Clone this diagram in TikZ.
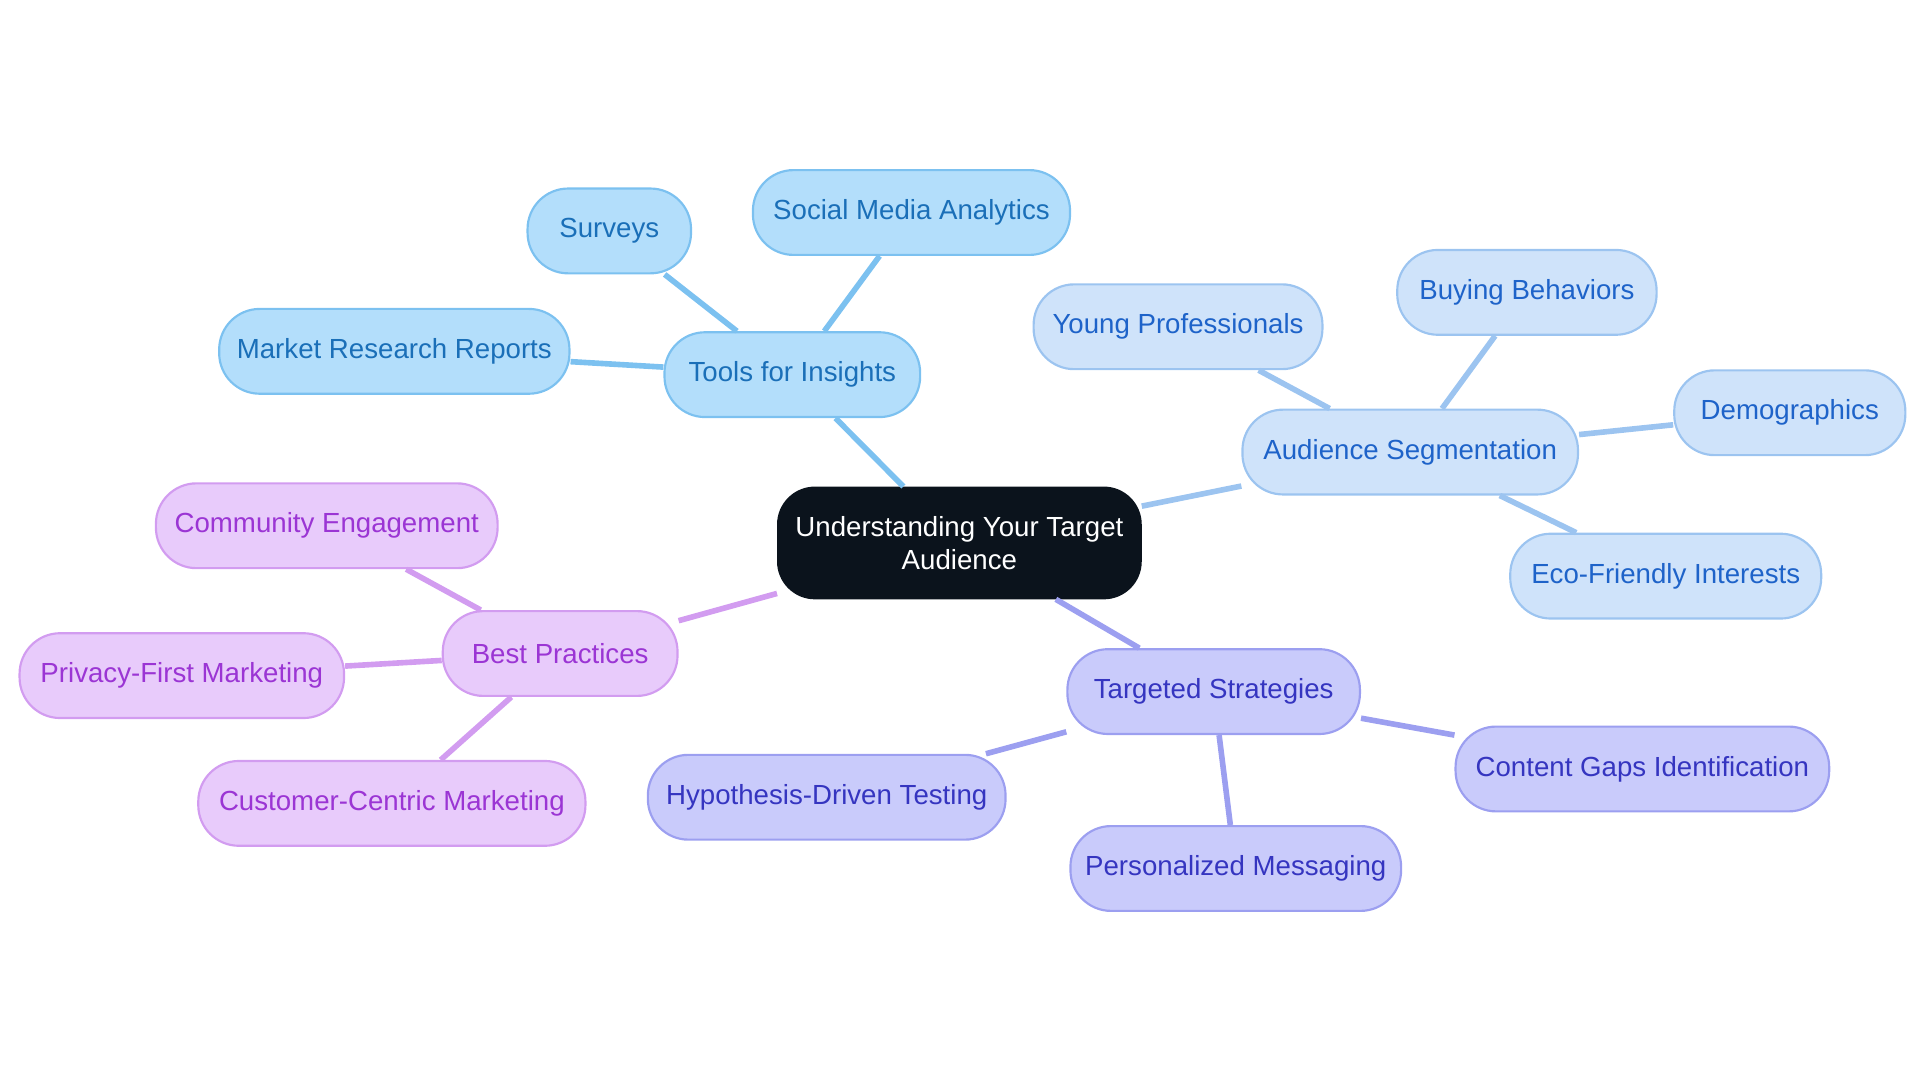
\documentclass[tikz,border=0pt]{standalone}
\usepackage{fontspec}
\setmainfont{Liberation Sans}
\begin{document}
\begin{tikzpicture}[x=0.01cm,y=-0.01cm,
  every node/.style={font=\fontsize{6.4}{7.5}\selectfont, rounded corners=0.33cm, minimum height=0.69cm, draw, line width=0.5pt},
  root/.style={fill=rootfill, draw=rootfill, text=white, align=center, minimum height=0.9cm, rounded corners=0.3cm},
  tools/.style={fill=toolsfill, draw=toolsline, text=toolstext},
  aud/.style={fill=audfill, draw=audline, text=audtext},
  strat/.style={fill=stratfill, draw=stratline, text=strattext},
  best/.style={fill=bestfill, draw=bestline, text=besttext},
  link/.style={line width=1.3pt}]
\definecolor{rootfill}{HTML}{0B131C}
\definecolor{toolsfill}{HTML}{B3DEFB}\definecolor{toolsline}{HTML}{7CC1F0}\definecolor{toolstext}{HTML}{1A6FB8}
\definecolor{audfill}{HTML}{CFE3FA}\definecolor{audline}{HTML}{9CC4F0}\definecolor{audtext}{HTML}{1E63C9}
\definecolor{stratfill}{HTML}{C9CBFB}\definecolor{stratline}{HTML}{9C9FF0}\definecolor{strattext}{HTML}{3535C0}
\definecolor{bestfill}{HTML}{E8CBFB}\definecolor{bestline}{HTML}{D29CF0}\definecolor{besttext}{HTML}{9B35D4}
\useasboundingbox (0,0) rectangle (1563,882);
% root
\node[root, minimum width=2.95cm] (root) at (781,442) {Understanding Your Target\\Audience};
% tools for insights
\node[tools, minimum width=2.08cm] (tools) at (645,305) {Tools for Insights};
\node[tools, minimum width=1.33cm] (surveys) at (496,188) {Surveys};
\node[tools, minimum width=2.58cm] (social) at (742,173) {Social Media Analytics};
\node[tools, minimum width=2.85cm] (market) at (321,286) {Market Research Reports};
% audience segmentation
\node[aud, minimum width=2.73cm] (aud) at (1148,368) {Audience Segmentation};
\node[aud, minimum width=2.35cm] (young) at (959,266) {Young Professionals};
\node[aud, minimum width=2.11cm] (buying) at (1243,238) {Buying Behaviors};
\node[aud, minimum width=1.88cm] (demo) at (1457,336) {Demographics};
\node[aud, minimum width=2.53cm] (eco) at (1356,469) {Eco-Friendly Interests};
% targeted strategies
\node[strat, minimum width=2.38cm] (strat) at (988,563) {Targeted Strategies};
\node[strat, minimum width=2.91cm] (hypo) at (673,649) {Hypothesis-Driven Testing};
\node[strat, minimum width=2.69cm] (perso) at (1006,707) {Personalized Messaging};
\node[strat, minimum width=3.04cm] (gaps) at (1337,626) {Content Gaps Identification};
% best practices
\node[best, minimum width=1.91cm] (best) at (456,532) {Best Practices};
\node[best, minimum width=2.78cm] (commu) at (266,428) {Community Engagement};
\node[best, minimum width=2.64cm] (privacy) at (148,550) {Privacy-First Marketing};
\node[best, minimum width=3.15cm] (custo) at (319,654) {Customer-Centric Marketing};
% connectors
\begin{scope}[link]
\draw[toolsline] (root) -- (tools);
\draw[toolsline] (tools) -- (surveys);
\draw[toolsline] (tools) -- (social);
\draw[toolsline] (tools) -- (market);
\draw[audline] (root) -- (aud);
\draw[audline] (aud) -- (young);
\draw[audline] (aud) -- (buying);
\draw[audline] (aud) -- (demo);
\draw[audline] (aud) -- (eco);
\draw[stratline] (root) -- (strat);
\draw[stratline] (strat) -- (hypo);
\draw[stratline] (strat) -- (perso);
\draw[stratline] (strat) -- (gaps);
\draw[bestline] (root) -- (best);
\draw[bestline] (best) -- (commu);
\draw[bestline] (best) -- (privacy);
\draw[bestline] (best) -- (custo);
\end{scope}
\end{tikzpicture}
\end{document}
